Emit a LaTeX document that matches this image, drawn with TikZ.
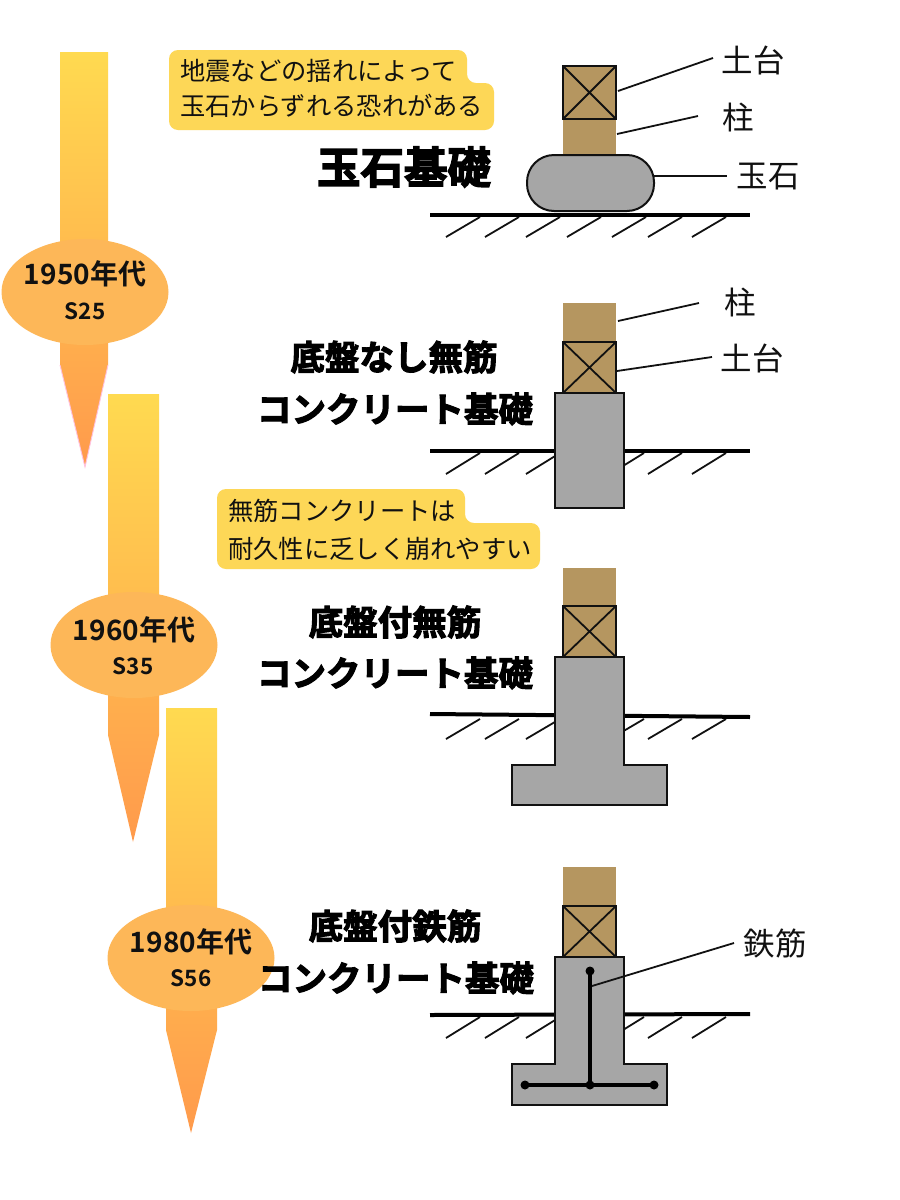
\documentclass[tikz,border=0pt]{standalone}
\usepackage{fontspec}
\setmainfont{Noto Sans CJK JP}
\newfontfamily\jpbold[BoldFont={Noto Sans CJK JP Bold}]{Noto Sans CJK JP Bold}
\newfontfamily\jpheavy[FakeBold=3.2]{Noto Sans CJK JP Bold}
\definecolor{woodc}{HTML}{B59660}
\definecolor{grayc}{HTML}{A6A6A6}
\definecolor{bubblec}{HTML}{FDD757}
\definecolor{ellc}{HTML}{FDB758}
\definecolor{arrtop}{HTML}{FFDA50}
\definecolor{arrbot}{HTML}{FF9A4C}
\definecolor{inkc}{HTML}{111111}
\tikzset{
  x=1pt,y=-1pt,
  arrowshade/.style={top color=arrtop,bottom color=arrbot,draw=none},
  era/.style={ellipse,fill=ellc,minimum width=167pt,minimum height=106pt,inner sep=0pt},
  bubble/.style={fill=bubblec,rounded corners=9pt},
  bubtext/.style={anchor=west,font=\fontsize{25.3}{25.3}\selectfont,text=inkc,inner sep=0pt},
  title/.style={font=\jpheavy\fontsize{34.5}{34.5}\selectfont,text=black,inner sep=0pt},
  partlabel/.style={font=\fontsize{31.5}{31.5}\selectfont,text=inkc,inner sep=0pt},
  eraname/.style={font=\jpbold\fontsize{28}{28}\selectfont,text=inkc,inner sep=0pt},
  erasub/.style={font=\jpbold\fontsize{22.5}{22.5}\selectfont,text=inkc,inner sep=0pt},
  wood/.style={fill=woodc,draw=none},
  woodbox/.style={fill=woodc,draw=inkc,line width=2pt},
  conc/.style={fill=grayc,draw=inkc,line width=2pt},
  ground/.style={line width=4pt,draw=black},
  hatchline/.style={line width=1.8pt,draw=inkc},
  leader/.style={line width=1.8pt,draw=inkc},
  rebar/.style={line width=3.5pt,draw=black}
}
\usetikzlibrary{shapes.geometric}
\newcommand{\woodcross}[2]{% top y, bottom y
  \draw[woodbox] (563,#1) rectangle (616,#2);
  \draw[inkc,line width=1.8pt] (563,#1) -- (616,#2) (616,#1) -- (563,#2);}
\newcommand{\hatches}[3]{% top y, bottom y, list of bottom x
  \foreach \hx in {#3} {\draw[hatchline] (\hx,#2) -- ({\hx+34},#1);}}
\begin{document}
\begin{tikzpicture}
\useasboundingbox (0,0) rectangle (900,1200);
\fill[white] (0,0) rectangle (900,1200);
% timeline arrows
\shade[arrowshade] (60,52) -- (108,52) -- (108,365) -- (85,467) -- (60,365) -- cycle;
\draw[draw=pink!80!magenta!60,line width=.9pt] (60,365) -- (85,467) -- (108,365);
\node[era] (e1) at (85,292) {};
\node[eraname] (e1a) at (85,274) {1950年代};
\node[erasub] (e1b) at (85,311) {S25};
\shade[arrowshade] (108,394) -- (159,394) -- (159,735) -- (133,842) -- (108,735) -- cycle;
\node[era] (e2) at (134,645) {};
\node[eraname] (e2a) at (134,630) {1960年代};
\node[erasub] (e2b) at (133,666) {S35};
\shade[arrowshade] (166,708) -- (217,708) -- (217,1030) -- (191,1133) -- (166,1030) -- cycle;
\node[era] (e3) at (191,958) {};
\node[eraname] (e3a) at (191,942) {1980年代};
\node[erasub] (e3b) at (191,978) {S56};
% callouts
\fill[bubble] (169,50) -- (467,50) -- (467,83) -- (494,83) -- (494,130) -- (169,130) -- cycle;
\node[bubtext] (b1a) at (180,71) {地震などの揺れによって};
\node[bubtext] (b1b) at (180,106) {玉石からずれる恐れがある};
\fill[bubble] (217,489) -- (465,489) -- (465,523) -- (540,523) -- (540,569) -- (217,569) -- cycle;
\node[bubtext] (b2a) at (228,511) {無筋コンクリートは};
\node[bubtext] (b2b) at (228,549) {耐久性に乏しく崩れやすい};
% titles
\node[title,font=\jpheavy\fontsize{43.5}{43.5}\selectfont] (t1) at (404,167) {玉石基礎};
\node[title] (t2a) at (394,357) {底盤なし無筋};
\node[title] (t2b) at (395,409) {コンクリート基礎};
\node[title] (t3a) at (395,622) {底盤付無筋};
\node[title] (t3b) at (395,673) {コンクリート基礎};
\node[title] (t4a) at (395,926) {底盤付鉄筋};
\node[title] (t4b) at (396,978) {コンクリート基礎};
% diagram 1
\hatches{217}{237}{446,485,526,567,612,648,692}
\draw[ground] (430,214.5) -- (750,214.5);
\fill[wood] (563,119) rectangle (616,156);
\woodcross{66}{119}
\draw[conc,rounded corners=27pt] (527,155) rectangle (654,211);
\node[partlabel] (l1a) at (753,60) {土台};
\node[partlabel] (l1b) at (738,117) {柱};
\node[partlabel] (l1c) at (768,177) {玉石};
\coordinate (p1a) at (618,91); \coordinate (q1a) at (713,58);
\coordinate (p1b) at (617,134); \coordinate (q1b) at (698,116);
\coordinate (p1c) at (654,176); \coordinate (q1c) at (727,176);
\draw[leader] (p1a) -- (q1a);
\draw[leader] (p1b) -- (q1b);
\draw[leader] (p1c) -- (q1c);
% diagram 2
\hatches{453}{474}{446,485,526,610,648,692}
\draw[ground] (430,451) -- (750,451);
\fill[wood] (563,303) rectangle (616,342);
\woodcross{342}{393}
\draw[conc] (555,393) rectangle (624,508);
\node[partlabel] (l2a) at (740,302) {柱};
\node[partlabel] (l2b) at (752,358) {土台};
\coordinate (p2a) at (618,321); \coordinate (q2a) at (699,303);
\coordinate (p2b) at (617,371); \coordinate (q2b) at (712,357);
\draw[leader] (p2a) -- (q2a);
\draw[leader] (p2b) -- (q2b);
% diagram 3
\hatches{719}{739}{446,485,526,610,648,692}
\draw[ground] (430,714) -- (750,717);
\fill[wood] (563,568) rectangle (616,606);
\woodcross{606}{657}
\draw[conc] (555,657) -- (624,657) -- (624,765) -- (667,765) -- (667,805) -- (512,805) -- (512,765) -- (555,765) -- cycle;
% diagram 4
\hatches{1017}{1038}{446,485,526,610,648,692}
\draw[ground] (430,1015) -- (750,1014);
\fill[wood] (563,867) rectangle (616,906);
\woodcross{906}{957}
\draw[conc] (555,957) -- (624,957) -- (624,1064) -- (667,1064) -- (667,1105) -- (512,1105) -- (512,1064) -- (555,1064) -- cycle;
\coordinate (r1) at (590,971); \coordinate (r2) at (590,1085);
\coordinate (r3) at (525,1085); \coordinate (r4) at (654,1085);
\draw[rebar] (r1) -- (r2);
\draw[rebar] (r3) -- (r4);
\foreach \rp in {r1,r2,r3,r4} {\fill[black] (\rp) circle (4.5pt);}
\node[partlabel] (l4) at (775,944) {鉄筋};
\coordinate (p4) at (592,986); \coordinate (q4) at (734,943);
\draw[leader] (p4) -- (q4);
\end{tikzpicture}
\end{document}
